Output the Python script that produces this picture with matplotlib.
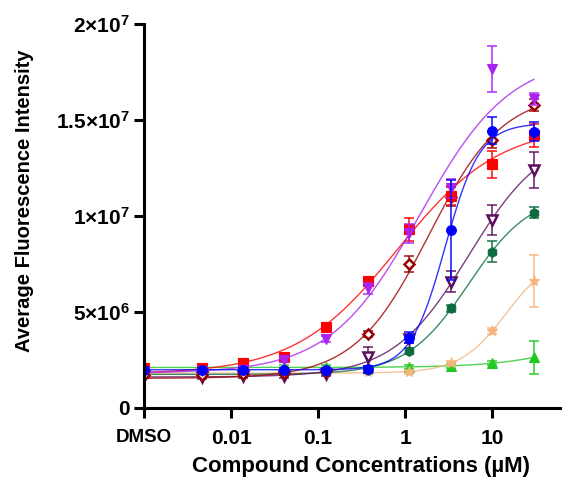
""" Dose-response: average fluorescence vs compound concentration """
import numpy as np
import matplotlib
matplotlib.use("Agg")
import matplotlib.pyplot as plt

plt.rcParams['font.family'] = ['Liberation Sans', 'DejaVu Sans']
plt.rcParams['font.weight'] = 'bold'
plt.rcParams['mathtext.fontset'] = 'custom'
plt.rcParams['mathtext.rm'] = 'Liberation Sans:bold'
plt.rcParams['mathtext.it'] = 'Liberation Sans:bold'
plt.rcParams['mathtext.bf'] = 'Liberation Sans:bold'

# concentrations in uM, first point is the DMSO control
conc = [0.001, 0.0046, 0.0137, 0.041, 0.123, 0.37, 1.11, 3.33, 10, 30]

# values in units of 1e6
red = [2.07, 2.1, 2.33, 2.67, 4.24, 6.63, 9.32, 11.06, 12.7, 14.2]
red_err = [0.1, 0.1, 0.1, 0.1, 0.1, 0.15, 0.6, 0.5, 0.7, 0.6]
violet = [1.9, 1.95, 2.0, 2.5, 3.58, 6.23, 9.1, 11.44, 17.64, 16.1]
violet_err = [0.1, 0.1, 0.1, 0.1, 0.15, 0.3, 0.5, 0.5, 1.2, 0.3]
darkred = [1.7, 1.7, 1.75, 1.8, 1.95, 3.84, 7.5, 11.0, 13.96, 15.78]
darkred_err = [0.1, 0.1, 0.1, 0.1, 0.1, 0.15, 0.4, 0.5, 0.4, 0.3]
blue = [1.98, 1.98, 1.98, 1.98, 1.98, 2.01, 3.66, 9.27, 14.44, 14.4]
blue_err = [0.15, 0.1, 0.1, 0.1, 0.1, 0.2, 0.3, 2.6, 0.7, 0.5]
dpurple = [1.67, 1.6, 1.65, 1.68, 1.77, 2.67, 3.6, 6.58, 9.79, 12.4]
dpurple_err = [0.1, 0.1, 0.1, 0.1, 0.1, 0.5, 0.2, 0.55, 0.8, 0.95]
dgreen = [1.75, 1.75, 1.78, 1.8, 1.85, 2.0, 2.97, 5.19, 8.14, 10.17]
dgreen_err = [0.1, 0.1, 0.1, 0.1, 0.1, 0.1, 0.15, 0.2, 0.55, 0.3]
peach = [1.8, 1.8, 1.8, 1.82, 1.85, 1.88, 1.89, 2.33, 4.01, 6.6]
peach_err = [0.1, 0.1, 0.1, 0.1, 0.1, 0.1, 0.1, 0.1, 0.15, 1.36]
green = [2.1, 2.1, 2.1, 2.12, 2.15, 2.1, 2.15, 2.2, 2.33, 2.64]
green_err = [0.1, 0.1, 0.1, 0.1, 0.1, 0.1, 0.1, 0.1, 0.1, 0.87]

xtick_vals = [0.001, 0.01, 0.1, 1, 10]
xtick_labels = ['DMSO', '0.01', '0.1', '1', '10']

# data, errors, colour, marker, filled, marker size
series = [
    (green, green_err, '#22C922', '^', True, 7),
    (peach, peach_err, '#F4B57D', '*', True, 8),
    (dgreen, dgreen_err, '#0E6B3E', 'h', True, 7),
    (dpurple, dpurple_err, '#5C0F5C', 'v', False, 7),
    (darkred, darkred_err, '#990000', 'D', False, 5.5),
    (red, red_err, '#FF0000', 's', True, 7),
    (violet, violet_err, '#AA22EE', 'v', True, 7),
    (blue, blue_err, '#0000FF', 'o', True, 7),
]


def fit4pl(x, y):
    # grid search over logEC50 / hill, bottom and top by linear least squares
    lx = np.log10(x)
    c = np.arange(-3, 2.5, 0.01)
    h = np.arange(0.3, 5.0, 0.02)
    C, H = np.meshgrid(c, h)
    C = C.ravel()[:, None]
    H = H.ravel()[:, None]
    S = 1.0 / (1.0 + 10 ** ((C - lx[None, :]) * H))
    A = 1 - S
    aa = (A * A).sum(1); ab = (A * S).sum(1); bb = (S * S).sum(1)
    ay = (A * y).sum(1); by = (S * y).sum(1)
    det = aa * bb - ab * ab
    b = (bb * ay - ab * by) / det
    t = (aa * by - ab * ay) / det
    sse = (((b[:, None] * A + t[:, None] * S) - y) ** 2).sum(1)
    i = np.argmin(sse)
    return b[i], t[i], C[i, 0], H[i, 0]


fig = plt.figure(figsize=(5.64, 4.83), dpi=100)
ax = fig.add_axes([0.2553, 0.1553, 0.7377, 0.7950])

xs = np.logspace(-3, np.log10(30), 300)
for vals, errs, col, mk, filled, ms in series:
    y = np.array(vals) * 1e6
    e = np.array(errs) * 1e6
    b, t, c, h = fit4pl(np.array(conc), y)
    ax.plot(xs, b + (t - b) / (1 + 10 ** ((c - np.log10(xs)) * h)), color=col, lw=1.0, alpha=0.8)
    ax.errorbar(conc, y, yerr=e, fmt='none', ecolor=col, elinewidth=1.3, capsize=3.5, capthick=1.3, alpha=0.8)
    ax.plot(conc, y, linestyle='none', marker=mk, color=col, markersize=ms,
            markerfacecolor=col if filled else 'white',
            markeredgecolor=col, markeredgewidth=1.8 if not filled else 0.8)

ax.set_xscale('log')
ax.set_xlim(0.001, 60)
ax.set_ylim(0, 2e7)
ax.set_xticks(xtick_vals)
ax.set_xticklabels(xtick_labels)
ax.xaxis.set_minor_locator(matplotlib.ticker.NullLocator())
ax.set_yticks([0, 5e6, 1e7, 1.5e7, 2e7])
ax.set_yticklabels(['0', r'$5{\times}10^6$', r'$1{\times}10^7$', r'$1.5{\times}10^7$', r'$2{\times}10^7$'])
for lab in ax.get_xticklabels():
    lab.set_fontsize(15)
ax.get_xticklabels()[0].set_fontsize(13.5)
ax.tick_params(axis='y', labelsize=15, width=2.2, length=7, pad=3)
ax.tick_params(axis='x', width=2.2, length=7, pad=8)

for s in ['top', 'right']:
    ax.spines[s].set_visible(False)
for s in ['left', 'bottom']:
    ax.spines[s].set_linewidth(2.2)

ax.set_ylabel('Average Fluorescence Intensity', fontsize=14.5, fontweight='bold')
ax.yaxis.set_label_coords(-0.265, 0.54)
ax.set_xlabel('Compound Concentrations (\u00b5M)', fontsize=16, fontweight='bold')
ax.xaxis.set_label_coords(0.522, -0.125)

fig.savefig('out.png', dpi=100)
